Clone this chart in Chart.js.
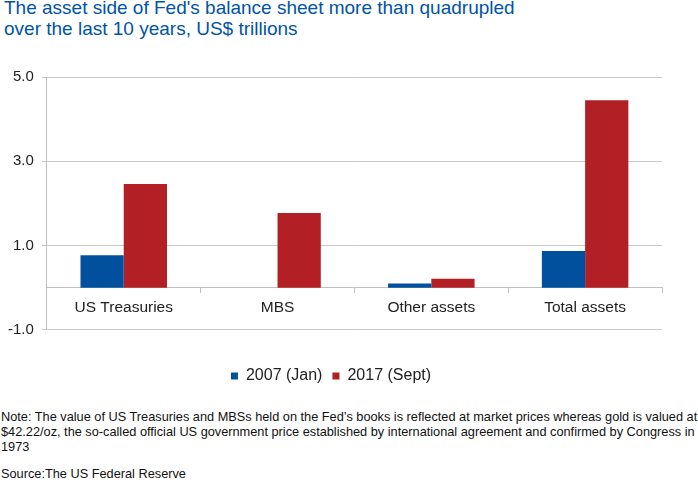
<!DOCTYPE html>
<html>
<head>
<meta charset="utf-8">
<script src="https://cdn.jsdelivr.net/npm/chart.js@4.4.0/dist/chart.umd.min.js"></script>
<style>
  body { margin: 0; background: #fff; width: 698px; height: 480px; overflow: hidden; position: relative; font-family: "Liberation Sans", Arial, sans-serif; }
  #title { position: absolute; left: 4px; top: -3px; font-size: 19px; line-height: 21px; color: #0054a6; }
  #wrap { position: absolute; left: 0; top: 60px; width: 698px; height: 334px; }
  #note { position: absolute; left: 1px; top: 409px; font-size: 12.75px; line-height: 15px; color: #111; white-space: nowrap; }
  #source { position: absolute; left: 1px; top: 466px; font-size: 12.75px; line-height: 15px; color: #111; }
</style>
</head>
<body>
<div id="title">The asset side of Fed's balance sheet more than quadrupled<br>over the last 10 years, US$ trillions</div>
<div id="wrap"><canvas id="chart"></canvas></div>
<div id="note">Note: The value of US Treasuries and MBSs held on the Fed’s books is reflected at market prices whereas gold is valued at<br>$42.22/oz, the so-called official US government price established by international agreement and confirmed by Congress in<br>1973</div>
<div id="source">Source:The US Federal Reserve</div>
<script>
const categories = ["US Treasuries", "MBS", "Other assets", "Total assets"];
const seriesNames = ["2007 (Jan)", "2017 (Sept)"];
const values2007 = [0.77, 0, 0.10, 0.87];
const values2017 = [2.46, 1.77, 0.21, 4.45];
const yTicks = [-1, 1, 3, 5];

const ctx = document.getElementById("chart").getContext("2d");
new Chart(ctx, {
  type: "bar",
  data: {
    labels: categories,
    datasets: [
      {
        label: seriesNames[0],
        data: values2007,
        backgroundColor: "#00509e",
        categoryPercentage: 0.5625,
        barPercentage: 1.0,
      },
      {
        label: seriesNames[1],
        data: values2017,
        backgroundColor: "#b22025",
        categoryPercentage: 0.5625,
        barPercentage: 1.0,
      },
    ],
  },
  options: {
    responsive: true,
    maintainAspectRatio: false,
    animation: false,
    layout: { padding: { top: 8, right: 36, left: 0, bottom: 0 } },
    scales: {
      x: {
        position: { y: 0 },
        grid: { offset: true, drawOnChartArea: false, drawTicks: true, tickLength: 5, color: "#c0c0c0" },
        border: { color: "#c0c0c0" },
        ticks: { color: "#222", font: { family: "Liberation Sans", size: 15.5 }, padding: 6 },
      },
      y: {
        min: -1,
        max: 5,
        afterBuildTicks: (axis) => {
          axis.ticks = yTicks.map((v) => ({ value: v }));
        },
        grid: { color: "#c8c8c8", tickLength: 5 },
        border: { color: "#c0c0c0" },
        ticks: {
          color: "#222",
          font: { family: "Liberation Sans", size: 15 },
          padding: 8,
          callback: (v) => v.toFixed(1),
        },
      },
    },
    plugins: {
      legend: {
        position: "bottom",
        title: { display: true, text: " ", font: { size: 1 }, padding: { top: 27, bottom: 0 } },
        labels: {
          boxWidth: 7,
          boxHeight: 7,
          padding: 10,
          color: "#222",
          font: { family: "Liberation Sans", size: 16 },
        },
      },
      tooltip: { enabled: false },
    },
  },
});
</script>
</body>
</html>
